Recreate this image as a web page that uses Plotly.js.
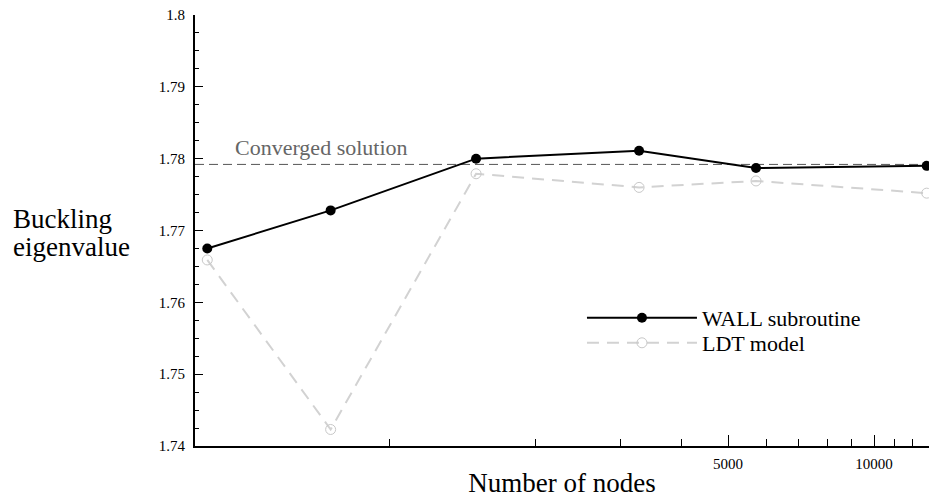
<!DOCTYPE html>
<html>
<head>
<meta charset="utf-8">
<script src="https://cdn.plot.ly/plotly-3.0.1.min.js"></script>
<style>
  html, body { margin: 0; padding: 0; overflow: hidden; background: #ffffff; }
  #chart { width: 929px; height: 498px; }
</style>
</head>
<body>
<div id="chart"></div>
<script>
// Mesh size (number of nodes) and the buckling eigenvalue each model predicts
const nodes = [422, 758, 1512, 3278, 5711, 12844];
const wallEigen = [1.7675, 1.7728, 1.7800, 1.7811, 1.7787, 1.7790];
const ldtEigen = [1.7659, 1.7423, 1.7779, 1.7760, 1.7769, 1.7752];
const convergedEigen = 1.7792;

const seriesNames = ['WALL subroutine', 'LDT model'];

const xTickVals = [5000, 10000];
const xTickText = ['5000', '10000'];
const xMinorVals = [1000, 2000, 3000, 4000, 6000, 7000, 8000, 9000, 11000, 12000];
const yTickVals = [1.74, 1.75, 1.76, 1.77, 1.78, 1.79, 1.8];
const yTickText = ['1.74', '1.75', '1.76', '1.77', '1.78', '1.79', '1.8'];
const yMinorVals = [];
for (let i = 0; i < yTickVals.length - 1; i++) {
  for (let k = 1; k < 4; k++) yMinorVals.push(+(yTickVals[i] + k * 0.0025).toFixed(4));
}

const SERIF = '"Liberation Serif", "Times New Roman", Times, serif';

const traces = [
  {
    x: nodes, y: wallEigen, name: seriesNames[0], legend: 'legend',
    type: 'scatter', mode: 'lines+markers', cliponaxis: false,
    line: { color: '#000000', width: 2 },
    marker: { symbol: 'circle', size: 10, color: '#000000' }
  },
  {
    x: nodes, y: ldtEigen, name: seriesNames[1], legend: 'legend2',
    type: 'scatter', mode: 'lines+markers', cliponaxis: false,
    line: { color: '#d2d2d2', width: 2, dash: '12px,8px' },
    marker: { symbol: 'circle-open', size: 10, color: '#c8c8c8', line: { width: 1 } }
  }
];

// one legend box per series so the two rows can sit closer together
const legendBase = {
  xanchor: 'left', yanchor: 'middle',
  bgcolor: 'rgba(0,0,0,0)', borderwidth: 0,
  font: { family: SERIF, size: 22, color: '#000000' },
  itemwidth: 110
};

const layout = {
  width: 929, height: 498,
  margin: { l: 195, r: 0, t: 15, b: 52, pad: 0 },
  paper_bgcolor: '#ffffff', plot_bgcolor: '#ffffff',
  font: { family: SERIF, color: '#000000', size: 15 },
  showlegend: true,
  legend: Object.assign({}, legendBase, { x: 0.5272, y: 0.297 }),
  legend2: Object.assign({}, legendBase, { x: 0.5272, y: 0.239 }),
  xaxis: {
    type: 'log', range: [2.6, 4.1134],
    showgrid: false, zeroline: false,
    showline: true, linecolor: '#000000', linewidth: 2,
    tickmode: 'array', tickvals: xTickVals, ticktext: xTickText,
    ticks: 'inside', ticklen: 11, tickwidth: 1, tickcolor: '#000000',
    minor: { tickmode: 'array', tickvals: xMinorVals, ticks: 'inside', ticklen: 7, tickwidth: 1, tickcolor: '#000000', showgrid: false },
    tickfont: { family: SERIF, size: 15 },
    ticklabelstandoff: 3,
    title: { text: 'Number of nodes', font: { family: SERIF, size: 27 }, standoff: 2 }
  },
  yaxis: {
    range: [1.74, 1.8],
    showgrid: false, zeroline: false,
    showline: true, linecolor: '#000000', linewidth: 2,
    tickmode: 'array', tickvals: yTickVals, ticktext: yTickText,
    ticks: 'inside', ticklen: 8, tickwidth: 1, tickcolor: '#000000',
    minor: { tickmode: 'array', tickvals: yMinorVals, ticks: 'inside', ticklen: 4, tickwidth: 1, tickcolor: '#000000', showgrid: false },
    tickfont: { family: SERIF, size: 15 },
    ticklabelstandoff: 5
  },
  shapes: [
    {
      type: 'line', xref: 'paper', x0: 0, x1: 1, yref: 'y', y0: convergedEigen, y1: convergedEigen,
      line: { color: '#555555', width: 1, dash: '9px,5px' }, layer: 'below'
    }
  ],
  annotations: [
    {
      text: 'Converged solution', xref: 'paper', x: 0.0518, xanchor: 'left',
      yref: 'y', y: convergedEigen, yanchor: 'bottom', yshift: 2,
      showarrow: false, font: { family: SERIF, size: 22, color: '#666666' }
    },
    {
      text: 'Buckling', xref: 'paper', x: -0.2513, xanchor: 'left',
      yref: 'paper', y: 0.526, yanchor: 'middle',
      showarrow: false, font: { family: SERIF, size: 27, color: '#000000' }
    },
    {
      text: 'eigenvalue', xref: 'paper', x: -0.2513, xanchor: 'left',
      yref: 'paper', y: 0.461, yanchor: 'middle',
      showarrow: false, font: { family: SERIF, size: 27, color: '#000000' }
    }
  ]
};

Plotly.newPlot('chart', traces, layout, { staticPlot: true, displayModeBar: false });
</script>
</body>
</html>
